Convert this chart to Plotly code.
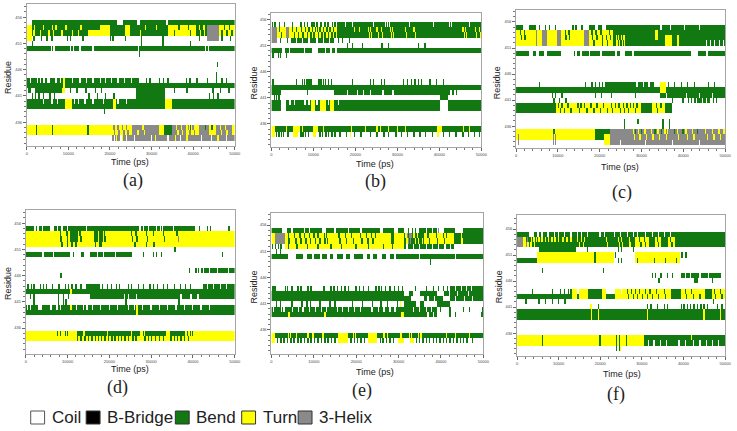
import numpy as np
import plotly.graph_objects as go

# ---------------- data ----------------
STATE_NAMES = ["Coil", "B-Bridge", "Bend", "Turn", "3-Helix"]
STATE_CODES = ["C", "B", "S", "T", "G"]
STATE_COLORS = ["#ffffff", "#000000", "#127812", "#ffff00", "#8a8a8a"]
PANEL_LABELS = ["(a)", "(b)", "(c)", "(d)", "(e)", "(f)"]
RESIDUES = list(range(432, 459))
X_TICKS = [0, 10000, 20000, 30000, 40000, 50000]
Y_TICKS = [436, 441, 446, 451, 456]
X_TITLE = "Time (ps)"
Y_TITLE = "Residue"
TIME_NS = 50  # simulated time, ns (1 ns = 1000 ps)

# blocks: (residue, state, start_ns, end_ns); stripes: (residue, state, "t t t ...") short events
A_BLOCKS = [
    (455, "S", 1.3, 50), (455, "C", 21.8, 23.2), (455, "C", 26.5, 27.2), (455, "C", 33.5, 34.0),
    (454, "T", 0, 1.3), (454, "S", 1.3, 17.6), (454, "T", 17.6, 20), (454, "S", 20, 23.6), (454, "T", 23.6, 24.8),
    (454, "S", 24.8, 33.9), (454, "T", 33.9, 40.6), (454, "S", 40.6, 43.4), (454, "G", 43.4, 46.2), (454, "T", 46.2, 50),
    (453, "T", 0, 1.3), (453, "S", 1.3, 14.8), (453, "T", 14.8, 20), (453, "S", 20, 23.6), (453, "T", 23.6, 24.8),
    (453, "S", 24.8, 33.9), (453, "T", 33.9, 40.6), (453, "S", 40.6, 43.4), (453, "G", 43.4, 46.2), (453, "T", 46.2, 50),
    (452, "T", 0, 1.2), (452, "G", 43.4, 46.2),
    (450, "S", 0, 50),
    (444, "S", 0, 27),
    (443, "S", 0, 50),
    (442, "S", 0.3, 1.0), (442, "S", 2, 8.5), (442, "T", 8.5, 9.3), (442, "S", 26.3, 33.2),
    (441, "S", 26.3, 33.2),
    (440, "S", 0, 50), (440, "T", 9.1, 10.8), (440, "T", 20.8, 21.5), (440, "T", 33.2, 34.8),
    (439, "S", 0, 50), (439, "T", 9.1, 10.8), (439, "T", 20.8, 21.5), (439, "T", 33.2, 34.8),
    (435, "T", 0, 25.2), (435, "G", 25.2, 31.9), (435, "T", 31.9, 33), (435, "S", 33, 35), (435, "G", 35, 38.3),
    (435, "T", 38.3, 41.4), (435, "G", 41.4, 43.8), (435, "T", 43.8, 45.4), (435, "G", 45.4, 49.4), (435, "T", 49.4, 50),
    (434, "T", 0, 25.2), (434, "G", 25.2, 31.9), (434, "T", 31.9, 33), (434, "S", 33, 35), (434, "G", 35, 38.3),
    (434, "T", 38.3, 41.4), (434, "G", 41.4, 43.8), (434, "T", 43.8, 45.4), (434, "G", 45.4, 49.4), (434, "T", 49.4, 50),
    (433, "G", 20.5, 50),
]
A_STRIPES = [
    (454, "T", "2.0 4.0 6.2 7.0 9.5 13.0 14.5 28.5 31.2 41.5 42.6"), (454, "S", "47.5 48.7 36.6 38.9"),
    (453, "T", "1.8 3.4 5.4 6.5 8.4 11.0 12.5 27.4 32.5 41.8 42.8"), (453, "S", "47.0 48.2 49.4 35.5 39.4"),
    (452, "S", "1.8 3.5 4.8 6.0 9.8 10.5 13.6 20.2 20.8 23.6 27.5 32.8 41.5 47.0 49.0"),
    (451, "S", "1.4 27.5 32.8 39.4"),
    (450, "C", "5.9 6.6 10.5 11.3 12.8 16.0 27.0 43.0 43.8"),
    (449, "S", "27.1"), (447, "S", "45.9"), (445, "S", "45.7"),
    (444, "C", "1.0 2.6 3.3 4.2 5.0 5.4 7.0 8.2 11.0 12.8 14.4 16.0 17.6 19.0 20.4 22.0 23.5 25.2"),
    (444, "S", "28.8 29.6 32.0 33.0 34.0 38.5 39.3 41.0 43.5 45.6 47.0 48.0"),
    (444, "T", "9.0"), (443, "T", "9.0"),
    (442, "S", "35.5 38.6 44.8 46.5 48.6 10.5 12.0 14.2 16.5 18.0"),
    (441, "S", "1.3 2.1 3.0 4.0 5.6 6.7 15.0 17.0 19.0 21.0 44.0 45.0 46.0"),
    (440, "C", "1.5 4.0 6.0 7.5 11.5 12.5 14.0 16.0 18.5 22.0 24.0"),
    (438, "S", "18.8"),
    (435, "S", "2.4 6.3 14.8 33.5 34.5 39.4 43.0 44.6"), (434, "S", "2.4 6.3 14.8"),
    (435, "G", "21.0 22.0 23.0 24.0 39.0 40.0"), (434, "G", "21.2 22.2 23.4 24.4 39.2 40.3"),
    (435, "T", "26.5 28.0 36.0 37.2 46.5 47.8"), (434, "T", "26.8 28.4 36.4 37.5 46.8 48.2"),
    (433, "C", "21.2 22.6 24.0 26.0 30.0 34.0 37.0 42.0 44.5 48.0"), (433, "T", "21.6 23.1 31.0 35.8 38.6 46.0"),
]

B_BLOCKS = [
    (455, "S", 15.7, 50),
    (454, "G", 0, 1.4), (454, "T", 1.4, 15.7), (454, "G", 3.5, 4.3), (454, "S", 15.7, 50),
    (453, "G", 0, 1.4), (453, "T", 1.4, 15.7), (453, "G", 3.5, 4.3), (453, "S", 15.7, 50),
    (452, "G", 0, 1.4), (452, "S", 4.7, 15.0),
    (450, "S", 0, 50),
    (443, "S", 0, 50),
    (442, "S", 0, 2.4), (442, "S", 15.0, 42.5),
    (441, "S", 40.2, 42.1),
    (440, "S", 0, 2.4), (440, "S", 3.5, 40.2), (440, "S", 42.1, 50),
    (439, "S", 0, 2.4), (439, "S", 3.5, 40.2), (439, "S", 42.1, 50),
    (440, "T", 9.5, 10.4), (440, "T", 11.5, 13.0), (440, "T", 14.0, 15.0),
    (439, "T", 9.5, 10.4), (439, "T", 11.5, 13.0), (439, "T", 14.0, 15.0),
    (435, "S", 0, 50), (435, "T", 0, 0.8), (435, "T", 5.1, 6.7), (435, "T", 9.8, 11.0), (435, "T", 18.9, 19.3), (435, "T", 39.4, 40.6),
    (434, "T", 0, 0.8), (434, "T", 5.1, 6.3), (434, "T", 9.8, 10.6),
]
B_STRIPES = [
    (455, "S", "0.3 0.8 2.0 3.1 5.1 7.1 7.9 8.7 9.6 10.2 10.8 11.8 12.8 13.4 14.5 15.2"),
    (455, "C", "17.7 19.3 24.4 27.2 27.7 28.2 33.0 38.6 42.5 43.0 47.2"),
    (454, "S", "2.0 5.0 6.0 7.2 8.2 9.0 9.8 10.5 11.0 11.6 12.5 13.2 14.0 14.8"),
    (453, "S", "2.4 5.5 6.5 7.6 8.6 9.4 10.2 11.3 12.0 12.8 13.6 14.4 15.2"),
    (454, "T", "19.7 20.9 23.2 23.6 25.2 26.2 28.3 28.8 32.0 34.0 45.6 46.2 48.5 49.5"),
    (453, "T", "19.9 21.1 23.4 23.9 25.5 26.5 28.6 29.1 32.3 34.3 45.9 46.5 48.8 49.7"),
    (452, "C", "6.0 7.5 9.0 10.8 12.5 13.8"), (452, "S", "2.3 3.9 16.0 17.0 18.5"),
    (451, "S", "18.1 19.3 21.7 26.4 28.0 35.0 36.6"), (451, "T", "44.9"),
    (450, "C", "2.8 3.1 4.3 7.9 9.8 10.2 10.6 11.0 12.9 14.2 15.4"), (450, "T", "44.9"),
    (449, "S", "0.4 1.6 2.2 3.5"),
    (444, "S", "0.2 0.5 5.9 7.5 7.9 8.5 9.0 9.5 11.4 11.8 12.4 12.9 13.5 14.3 19.3 23.6 24.4 26.2 27.0 29.9 31.5 32.5 33.4 34.2 35.0 35.8 37.8 39.4 41.0"),
    (442, "C", "18.1 20.5 22.0 23.5 26.6 29.0"), (442, "S", "8.7 43.3 44.1"),
    (441, "S", "0.7 1.2 1.8"),
    (440, "C", "4.5 5.5 8.0 9.0 10.8 13.5 16.0"),
    (434, "S", "1.2 1.8 2.4 3.0 4.0 7.0 7.6 8.2 8.8 11.6 12.2 13.0 13.6 14.4 15.2 16.4 18.0 19.8 21.4 22.3 23.6 25.2 26.8 28.0 29.6 31.0 32.4 34.0 35.4 36.8 38.4 41.0 42.4 44.0 45.6 47.0 48.4 49.5"),
    (435, "T", "3.6 7.5 12.5 22.4 25.2 26.0 28.0 30.0 31.9 45.7 47.2"), (434, "T", "18.9 39.6"),
]

C_BLOCKS = [
    (455, "S", 0, 1.6), (455, "S", 3.2, 4.7), (455, "S", 17.4, 19.0), (455, "S", 19.6, 20.6), (455, "S", 21.4, 50),
    (454, "T", 0, 4.7), (454, "G", 4.7, 5.1), (454, "T", 5.1, 6.3), (454, "G", 6.3, 7.5), (454, "T", 7.5, 9.9),
    (454, "G", 9.9, 10.7), (454, "T", 10.7, 16.2), (454, "G", 16.2, 17.4), (454, "T", 17.4, 23.3), (454, "S", 23.3, 50),
    (453, "T", 0, 4.7), (453, "G", 4.7, 5.1), (453, "T", 5.1, 6.3), (453, "G", 6.3, 7.5), (453, "T", 7.5, 9.9),
    (453, "G", 9.9, 10.7), (453, "T", 10.7, 16.2), (453, "G", 16.2, 17.4), (453, "T", 17.4, 23.3), (453, "S", 23.3, 50),
    (452, "T", 0, 4.7), (452, "G", 4.7, 5.1), (452, "T", 5.1, 6.3), (452, "G", 6.3, 7.5), (452, "T", 7.5, 9.9),
    (452, "G", 9.9, 10.7), (452, "T", 10.7, 16.2), (452, "G", 16.2, 17.4), (452, "T", 17.4, 23.3), (452, "S", 23.3, 50),
    (454, "T", 33.2, 34.0), (453, "T", 33.2, 34.0), (453, "T", 35.6, 37.2), (452, "T", 35.6, 37.2),
    (450, "S", 0, 3.2), (450, "S", 4.0, 4.7), (450, "S", 5.5, 6.7), (450, "S", 7.5, 10.7), (450, "S", 13.8, 14.2),
    (450, "S", 14.6, 15.4), (450, "S", 15.8, 17.4), (450, "S", 17.8, 20.2), (450, "S", 20.6, 23.7), (450, "S", 24.1, 24.9),
    (450, "S", 26.1, 27.7), (450, "S", 28.1, 41.9), (450, "S", 43.5, 45.5), (450, "S", 45.9, 50),
    (444, "S", 21.2, 33.0), (444, "T", 34.4, 35.9),
    (443, "S", 0, 50), (443, "T", 34.4, 35.9),
    (442, "S", 34.4, 50),
    (441, "S", 42.5, 46.5),
    (440, "S", 0, 9.5), (440, "T", 9.5, 37.2), (440, "S", 29.9, 32.6), (440, "S", 35.6, 37.2),
    (439, "S", 0, 9.5), (439, "T", 9.5, 37.2), (439, "S", 29.9, 32.6), (439, "S", 35.6, 37.2),
    (435, "T", 0, 19.0), (435, "S", 19.0, 22.5), (435, "G", 22.5, 50),
    (434, "T", 0, 19.0), (434, "S", 19.0, 21.0), (434, "T", 21.0, 22.5), (434, "G", 22.5, 50),
    (433, "T", 21.0, 22.5), (433, "G", 22.5, 50),
]
C_STRIPES = [
    (455, "S", "5.6 7.1 8.0 9.5 13.6 14.4 15.8"), (455, "C", "34.6 37.0 40.3 44.0"),
    (454, "S", "1.2 2.0 11.8 12.6 18.2 19.2 20.4 21.5 22.3"), (453, "S", "1.4 2.2 12.0 12.8 18.4 19.4 20.6 21.7 22.5"),
    (452, "S", "18.6 20.8 22.0"),
    (453, "T", "24.0 24.5 25.3 25.8 38.8"), (452, "T", "24.2 24.8 25.5 26.0 38.8"),
    (452, "C", "45.5 46.5 47.5 48.8 49.6"),
    (444, "S", "5.6 16.6 18.2 19.0 20.0 20.6 36.5 38.0 39.5 41.0 42.8 44.5 46.0 47.5 49.5"),
    (444, "C", "27.5 29.0 30.5 31.8"),
    (442, "C", "36.0 38.5 40.8 44.0 47.0"), (442, "S", "8.7 9.5 11.0 19.0 20.5 22.8 27.5 28.5"),
    (441, "S", "1.9 9.0 10.5 12.0 37.5 38.5 40.0 41.3 42.0 47.2 48.0"), (441, "C", "43.2 44.6 45.5"),
    (440, "S", "10.2 11.0 12.5 14.8 15.6 16.3 18.0 19.4 21.0 22.8 23.8 24.6 25.6 26.6 27.4 28.2 29.0 33.6 34.6"),
    (439, "S", "10.6 11.6 13.2 15.2 17.0 18.6 20.2 22.0 23.2 25.0 26.0 27.0 28.6 33.9 34.9"),
    (437, "S", "26.0 29.2 35.2 36.8"), (436, "S", "26.0 27.5 35.2 36.8"),
    (435, "T", "28.1 29.3 30.8 32.4 34.0 35.6 36.2 38.6 40.6 42.2 45.4 47.0 48.6 49.8"),
    (434, "T", "28.4 29.6 31.2 32.8 34.4 36.0 38.9 41.0 42.6 45.8 47.4 49.0"),
    (435, "S", "9.0 28.6 30.0 33.2 34.8 38.0 40.0 43.5"),
    (434, "G", "0.6 8.9 9.4"), (433, "G", "0.6 8.9 9.4"),
    (433, "C", "25.0 31.0 37.5 44.0"),
]

D_BLOCKS = [
    (455, "S", 0, 5.9), (455, "S", 6.7, 27.2), (455, "S", 27.6, 40.4),
    (454, "T", 0, 50), (454, "S", 10.7, 12.5), (454, "S", 16.4, 17.3), (454, "S", 17.6, 18.4),
    (453, "T", 0, 50), (453, "S", 10.7, 12.5), (453, "S", 16.4, 17.3), (453, "S", 17.6, 18.4),
    (452, "T", 0, 50),
    (451, "S", 35.4, 36.0),
    (450, "S", 0, 10.7), (450, "S", 15.4, 25.3),
    (447, "S", 42.7, 50),
    (444, "S", 14.4, 17.8), (444, "S", 42.4, 50),
    (443, "S", 0, 50),
    (442, "S", 15.4, 50),
    (440, "S", 0, 50),
    (439, "S", 0, 50),
    (435, "T", 0, 50), (435, "S", 12.3, 27.3), (435, "S", 28.1, 33.6), (435, "S", 34.4, 38.0),
    (434, "T", 0, 50),
]
D_STRIPES = [
    (455, "C", "2.2 3.0 4.0 7.6 8.6 10.0 14.5 28.2 29.3 31.4 32.3 32.8 35.4"), (455, "S", "41.5 43.5 44.1 48.6"),
    (454, "S", "8.3 9.8 13.0 18.9 25.4 26.4 29.0 30.5 33.0 36.2"),
    (453, "S", "8.5 9.9 13.2 19.0 25.5 26.6 29.1 33.1"), (453, "G", "36.5"),
    (452, "S", "8.6 10.0 11.0 12.0 16.8 17.8 18.2 26.2 29.0 30.6"),
    (450, "C", "4.2 6.7 17.2 18.6 21.5"), (450, "S", "11.4 13.4 13.8 28.1 30.5 31.3 32.5 47.1"),
    (447, "S", "39.2 40.8 41.3 42.2"), (447, "C", "44.0 46.0 48.5"),
    (446, "S", "8.5"),
    (444, "S", "0.6 1.4 2.0 3.5 4.3 5.0 6.5 8.0 9.5 10.2 11.0 12.0 13.2 18.4 19.5 20.5 21.8 22.5 23.5 24.6 25.4 27.0 28.2 29.8 30.5 31.5 33.0 34.0 35.5 37.0 38.2 39.5 40.5"),
    (444, "C", "43.5 45.0 46.5 48.0"),
    (443, "T", "10.8"),
    (442, "C", "23.7 24.5 26.5 37.2 39.6 41.2"), (442, "S", "1.2 2.0 7.9 9.0 10.2"),
    (441, "S", "2.0 7.9 9.0 9.6 23.5 24.0 36.6"),
    (440, "C", "0.5 1.2 3.2 3.6 6.0 7.5 8.3 12.2 13.8 14.6 16.0 18.0 20.0 22.0 24.5 26.0 28.0 30.0 32.0 34.0 36.0 38.0 40.0 42.0 44.0"),
    (440, "T", "26.6 10.8"), (439, "T", "26.6"),
    (435, "S", "7.6 8.3 9.5 9.9 38.8 39.5 40.0"), (435, "T", "14.0 19.5 25.3 28.5 33.9"),
    (434, "S", "12.5 13.2 14.2 15.0 15.8 16.6 17.4 18.2 19.0 19.8 20.6 21.4 22.2 23.0 23.8 24.6 25.6 26.4 28.6 29.4 30.2 31.0 32.0 33.0 34.8 35.6 36.4 37.2 38.0 39.0"),
]

E_BLOCKS = [
    (455, "S", 0, 2.5), (455, "S", 3.7, 29.0), (455, "S", 29.8, 31.3), (455, "S", 34.8, 39.1), (455, "S", 40.7, 43.4), (455, "S", 45.3, 50),
    (454, "T", 0, 0.9), (454, "G", 0.9, 3.3), (454, "T", 3.3, 28.2), (454, "S", 28.2, 29.0), (454, "T", 29.0, 31.3),
    (454, "S", 31.3, 36.0), (454, "T", 36.0, 43.0), (454, "S", 43.0, 50),
    (453, "T", 0, 0.9), (453, "G", 0.9, 3.3), (453, "T", 3.3, 28.2), (453, "S", 28.2, 29.0), (453, "T", 29.0, 31.3),
    (453, "S", 31.3, 36.0), (453, "T", 36.0, 43.0), (453, "S", 43.0, 50),
    (452, "T", 3.3, 31.3), (452, "S", 31.3, 43.0),
    (450, "S", 0, 4.0), (450, "S", 5.8, 7.5), (450, "S", 8.5, 9.5), (450, "S", 10.0, 11.5), (450, "S", 12.0, 13.0),
    (450, "S", 13.8, 14.5), (450, "S", 15.5, 16.8), (450, "S", 17.5, 18.5), (450, "S", 19.5, 21.5), (450, "S", 22.5, 23.3),
    (450, "S", 24.0, 25.0), (450, "S", 26.0, 27.0), (450, "S", 28.0, 50),
    (444, "S", 42.2, 50),
    (443, "S", 0, 31.3), (443, "S", 32.5, 33.5), (443, "S", 35.0, 39.0), (443, "S", 40.7, 50),
    (442, "S", 0, 32.9), (442, "S", 36.0, 40.5), (442, "S", 42.2, 50),
    (441, "S", 31.3, 34.0), (441, "S", 35.0, 36.0), (441, "S", 39.1, 42.2),
    (440, "S", 0, 39.0),
    (439, "S", 0, 39.1), (439, "T", 30.5, 31.3),
    (435, "S", 0, 50), (435, "T", 0, 0.9), (435, "T", 15.7, 18.1), (435, "T", 22.7, 25.0),
    (434, "T", 0, 0.9), (434, "T", 15.7, 18.1), (434, "T", 22.7, 25.0), (434, "T", 29.8, 31.3), (434, "T", 32.6, 33.7),
]
E_STRIPES = [
    (455, "C", "4.8 7.9 9.0 12.2 12.6 15.0 18.1 21.2 23.5 25.8 26.3 36.5 38.0"), (455, "S", "32.3 33.3 34.0"), (455, "G", "39.5"),
    (454, "S", "4.0 5.5 6.8 7.9 9.0 10.0 11.0 12.5 12.9 16.0 17.5 19.0 21.0 22.5 23.6 24.5 37.0 38.9 40.6 41.3"),
    (453, "S", "4.2 5.8 7.0 8.2 9.3 10.3 11.4 12.7 13.2 16.2 17.8 19.4 21.4 22.8 24.0 24.9 37.3 39.2 40.9"),
    (454, "G", "1.4 2.2 32.0 32.5 33.0"), (453, "G", "1.6 2.4 32.2 32.8"),
    (454, "T", "31.8 33.6 34.5 35.5 44.8"), (453, "T", "32.0 33.9 34.8 35.7 45.0"),
    (452, "S", "0.3 1.0 1.6 2.3 4.0 6.0 8.5 11.0 14.0 16.5 20.0 23.0 26.5 28.5"),
    (452, "C", "32.0 33.5 35.0 36.5 38.0 39.5 41.0 42.3"),
    (451, "S", "1.3 2.1"), (450, "C", "29.2 35.0 43.5"), (449, "S", "37.5"),
    (444, "S", "0.2 0.5 0.8 3.3 3.8 4.8 6.3 7.0 8.6 9.4 12.4 14.0 14.8 15.6 16.5 17.4 18.2 20.0 20.8 21.6 23.0 24.6 25.4 26.0 27.0 28.0 29.0 30.0 31.0 34.0 35.5 36.5 38.2 39.5 40.5 41.5"),
    (444, "C", "43.5 44.8 46.0 47.2"), (443, "C", "42.0 44.0 46.5"), (442, "C", "37.0 38.5 43.5 45.5 47.5"),
    (441, "S", "1.3 2.1 4.8 7.2 8.4 9.2 11.5 13.8 15.0 19.2 21.5 23.9 25.8 27.4 29.7"), (441, "T", "30.5"),
    (440, "C", "0.5 2.4 3.0 5.0 6.4 7.5 9.0 10.5 11.8 13.0 14.3 15.6 16.8 18.2 19.5 21.0 22.3 23.8 25.3 26.6 28.0 29.2 33.5 35.0 36.5 37.8"),
    (440, "S", "39.9 42.2 45.3 46.8 48.5 49.7"),
    (439, "T", "4.2 12.6"), (439, "C", "35.5 37.0 38.2"), (439, "S", "42.2 43.5 49.6"),
    (435, "T", "2.5 4.0 4.5 5.9 8.6 9.8 12.2 19.3 19.9 26.6 27.3 30.1 30.6 32.5 33.1 34.8 35.3 40.7 41.4 43.4 46.8"),
    (434, "S", "1.5 2.2 3.0 3.8 4.6 5.4 6.2 7.0 7.8 8.6 9.4 10.2 11.0 11.8 12.6 13.4 14.2 15.0 18.8 19.6 20.4 21.2 22.0 25.6 26.4 27.2 28.0 28.8 34.2 35.0 35.8 36.6 37.4 38.2 39.0 39.8 40.6 41.4 42.2 43.0 43.8 44.6 45.4 46.2 47.5 48.5"),
]

F_BLOCKS = [
    (455, "S", 0, 2.9), (455, "S", 4.1, 50),
    (454, "G", 0, 1.35), (454, "T", 1.35, 2.1), (454, "S", 2.1, 3.3), (454, "T", 3.3, 4.9), (454, "S", 4.9, 50),
    (454, "T", 28.4, 31.6), (454, "T", 33.1, 34.7), (454, "T", 36.3, 37.9),
    (453, "G", 0, 1.35), (453, "T", 1.35, 2.1), (453, "S", 2.1, 50),
    (453, "T", 28.4, 31.6), (453, "T", 33.1, 34.7), (453, "T", 36.3, 37.9),
    (452, "S", 5.3, 14.1),
    (451, "T", 4.9, 23.2), (451, "T", 28.4, 39.1),
    (450, "S", 0, 4.9), (450, "T", 4.9, 23.2), (450, "T", 28.4, 39.1),
    (447, "S", 39.5, 49.0),
    (444, "T", 13.3, 14.5), (444, "T", 15.0, 17.0), (444, "S", 17.0, 20.4), (444, "T", 20.4, 21.5), (444, "T", 23.5, 25.0),
    (444, "T", 25.2, 50), (444, "S", 37.0, 39.5), (444, "S", 45.3, 46.9),
    (443, "S", 0, 13.3), (443, "T", 13.3, 14.5), (443, "S", 14.5, 15.0), (443, "T", 15.0, 17.0), (443, "S", 17.0, 20.4),
    (443, "T", 20.4, 21.5), (443, "S", 21.5, 23.5), (443, "T", 23.5, 50), (443, "S", 37.0, 39.5), (443, "S", 45.3, 46.9),
    (440, "S", 0, 50), (439, "S", 0, 50),
    (435, "T", 0, 30.4), (435, "S", 30.4, 50),
    (434, "T", 0, 30.4), (434, "S", 30.4, 50),
]
F_STRIPES = [
    (455, "C", "5.0 6.0 7.5 9.0 10.0 11.5 13.0 14.5 15.5 17.0 18.5 20.0 21.0 23.5 25.0 26.5 28.0 29.0 31.0 32.5 34.0 35.5 37.0"),
    (454, "G", "2.5"), (454, "S", "3.8 4.4"),
    (454, "T", "5.3 6.0 6.8 7.6 8.4 9.2 10.0 11.0 12.0 13.0 14.5 15.5 16.2 21.5 24.4 25.2 27.0"),
    (453, "T", "2.6 3.4 4.2 15.0 16.0 21.7 24.6 25.4 27.2"), (453, "G", "2.3"),
    (454, "S", "29.5 30.6 33.8 36.9"), (453, "S", "29.8 30.9 34.0 37.2"),
    (452, "S", "17.0 24.4 25.2 28.0"),
    (451, "S", "18.8 23.8 39.6 40.6"),
    (450, "S", "18.8 24.4 25.2 29.0 33.1 35.8 38.4"),
    (448, "S", "6.1 20.7"),
    (447, "S", "32.6 33.4 34.6 36.1 37.4"), (447, "C", "40.5 41.8 44.0 46.0"),
    (446, "S", "34.2 42.8 43.2 47.0"),
    (444, "S", "3.7 8.5 10.5 11.5 12.5 13.0 26.5 27.5 28.5 29.5 31.0 32.0 33.5 35.5 40.5 42.0 43.5 47.5 49.0"),
    (443, "S", "26.8 28.0 29.0 30.2 31.4 32.5 34.0 35.8 40.8 42.5 44.0 47.8 49.3"),
    (442, "S", "2.2 5.3 6.9 8.5 10.0 11.6 47.2"),
    (441, "S", "18.0 19.6 31.4 32.2 33.8 35.5 36.3 39.5 40.2 41.0 41.8 42.6 43.4 44.2 45.0 45.8 48.3 49.3"),
    (441, "T", "17.8"),
    (440, "T", "18.0 19.6 31.4 45.0 49.0"), (439, "T", "18.0 19.6 31.4 45.0 49.0"),
    (435, "S", "6.1 20.0 24.0 24.6 26.4"), (435, "T", "42.0"),
    (434, "S", "6.1 20.0 24.0 24.6 26.4"),
    (434, "C", "31.5 33.0 34.5 36.0 37.5 39.0 40.5 42.5 44.0 45.5 47.0 48.5"),
    (433, "S", "24.0 24.6"), (433, "T", "24.9"),
]

PANELS = [(A_BLOCKS, A_STRIPES), (B_BLOCKS, B_STRIPES), (C_BLOCKS, C_STRIPES),
          (D_BLOCKS, D_STRIPES), (E_BLOCKS, E_STRIPES), (F_BLOCKS, F_STRIPES)]

# ---------------- build state matrices ----------------
NBIN = 500                      # 100 ps bins
BIN_NS = TIME_NS / NBIN
STRIPE_NS = 0.3
x_ps = (np.arange(NBIN) + 0.5) * BIN_NS * 1000
code_idx = {c: i for i, c in enumerate(STATE_CODES)}


def build(blocks, stripes):
    z = np.zeros((len(RESIDUES), NBIN), dtype=int)
    for res, code, t0, t1 in blocks:
        i0, i1 = int(round(t0 / BIN_NS)), int(round(t1 / BIN_NS))
        z[res - RESIDUES[0], max(i0, 0):min(i1, NBIN)] = code_idx[code]
    for res, code, times in stripes:
        for t in map(float, times.split()):
            i0 = int(round((t - STRIPE_NS / 2) / BIN_NS))
            i1 = int(round((t + STRIPE_NS / 2) / BIN_NS))
            z[res - RESIDUES[0], max(i0, 0):min(max(i1, i0 + 1), NBIN)] = code_idx[code]
    return z


n = len(STATE_COLORS)
colorscale = []
for k, col in enumerate(STATE_COLORS):
    colorscale += [[k / n, col], [(k + 1) / n, col]]

# ---------------- layout geometry (pixels) ----------------
W, H = 737, 431
BOXES = [(26, 236, 4, 146), (273, 485, 13, 147), (520, 731, 10, 148),
         (25, 236, 210, 354), (273, 487, 213, 354), (521, 731, 215, 356)]
YRANGES = [(431.45, 458.5), (431.6, 457.2), (431.8, 458.3),
           (431.05, 458.5), (431.4, 458.3), (431.6, 458.7)]
XTITLE_POS = [(130, 162), (378, 164), (625, 167), (130, 369), (378, 372), (627, 374)]
CAPTION_POS = [(133, 180), (378, 182), (627, 193), (118, 387), (364, 390), (621, 394)]
YTITLE_POS = [(7, 77), (255, 83), (501, 83), (7, 283), (255, 287), (503, 287)]


def px(x):
    return x / W


def py(y):
    return 1 - y / H


def label(x, y, text, size, family, **kw):
    d = dict(x=px(x), y=py(y), xref="paper", yref="paper", text=text, showarrow=False,
             xanchor="center", yanchor="middle",
             font=dict(size=size, color="#222", family=family))
    d.update(kw)
    return d


SANS = "Liberation Sans, Arial"
SERIF = "Liberation Serif, Times New Roman"

fig = go.Figure()
annotations = []
layout_axes = {}
for i, (blocks, stripes) in enumerate(PANELS):
    z = build(blocks, stripes)
    sfx = "" if i == 0 else str(i + 1)
    fig.add_trace(go.Heatmap(
        z=z, x=x_ps, y=RESIDUES, zmin=-0.5, zmax=n - 0.5, colorscale=colorscale,
        showscale=False, xaxis="x" + sfx, yaxis="y" + sfx, hoverinfo="skip"))
    x0, x1, y0, y1 = BOXES[i]
    layout_axes["xaxis" + sfx] = dict(
        domain=[px(x0), px(x1)], anchor="y" + sfx, range=[0, TIME_NS * 1000],
        tickvals=X_TICKS, ticktext=[str(v) for v in X_TICKS],
        tickfont=dict(size=4, color="#444", family=SANS),
        ticks="outside", ticklen=3, tickcolor="#666", tickwidth=1,
        minor=dict(dtick=2000, tick0=0, ticks="outside", ticklen=2, tickcolor="#777"),
        showline=True, mirror=True, linecolor="#a5a5a5", linewidth=1,
        showgrid=False, zeroline=False, fixedrange=True)
    layout_axes["yaxis" + sfx] = dict(
        domain=[py(y1), py(y0)], anchor="x" + sfx, range=list(YRANGES[i]),
        tickvals=Y_TICKS, ticktext=[str(v) for v in Y_TICKS],
        tickfont=dict(size=4, color="#444", family=SANS),
        ticks="outside", ticklen=3, tickcolor="#666", tickwidth=1,
        minor=dict(dtick=1, tick0=436, ticks="outside", ticklen=2, tickcolor="#777"),
        showline=True, mirror=True, linecolor="#a5a5a5", linewidth=1,
        showgrid=False, zeroline=False, fixedrange=True)
    annotations.append(label(*XTITLE_POS[i], X_TITLE, 9, SANS))
    annotations.append(label(*YTITLE_POS[i], Y_TITLE, 9, SANS, textangle=-90))
    annotations.append(label(*CAPTION_POS[i], PANEL_LABELS[i], 18, SERIF))

# legend (boxes + names)
LEG_BOX_X = [30, 86, 176, 243, 300]
LEG_Y0, LEG_Y1 = 411, 424
shapes = []
for k, name in enumerate(STATE_NAMES):
    bx = LEG_BOX_X[k]
    shapes.append(dict(type="rect", xref="paper", yref="paper", x0=px(bx), x1=px(bx + 14),
                       y0=py(LEG_Y1), y1=py(LEG_Y0), fillcolor=STATE_COLORS[k],
                       line=dict(color="#555" if k == 0 else "#333", width=1)))
    annotations.append(label(bx + 19, (LEG_Y0 + LEG_Y1) / 2, name, 17, SANS, xanchor="left"))

fig.update_layout(width=W, height=H, margin=dict(l=0, r=0, t=0, b=0),
                  paper_bgcolor="white", plot_bgcolor="white", showlegend=False,
                  annotations=annotations, shapes=shapes, **layout_axes)

fig.write_html("out.html", config={"displayModeBar": False},
               post_script="document.body.style.margin='0px';document.body.style.overflow='hidden';")
